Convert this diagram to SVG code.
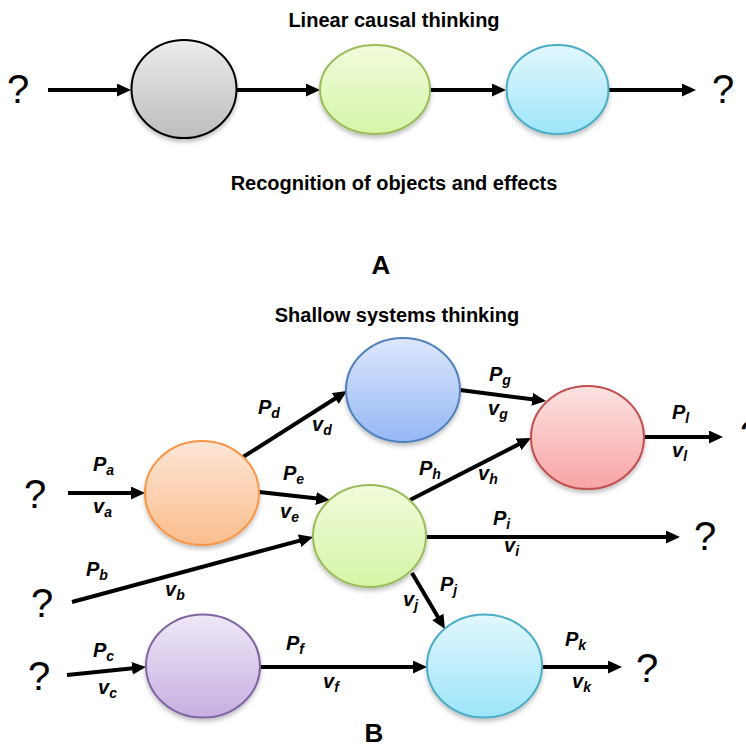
<svg xmlns="http://www.w3.org/2000/svg" width="746" height="747" viewBox="0 0 746 747">
  <style>
    .title { font-family: "Liberation Sans", Arial, sans-serif; font-weight: bold; font-size: 20px; fill: #000; text-anchor: middle; }
    .panel { font-family: "Liberation Sans", Arial, sans-serif; font-weight: bold; font-size: 26px; fill: #000; text-anchor: middle; }
    .q { font-family: "Liberation Sans", Arial, sans-serif; font-size: 40px; fill: #000; text-anchor: middle; }
    .lbl { font-family: "Liberation Sans", Arial, sans-serif; font-weight: bold; font-style: italic; font-size: 20px; fill: #000; }
    .sub { font-size: 14px; }
    .edge { stroke: #000; stroke-width: 4; fill: none; marker-end: url(#head); }
    .node { stroke-width: 2; filter: url(#shadow); }
  </style>
  <defs>
    <marker id="head" markerUnits="userSpaceOnUse" markerWidth="14" markerHeight="13" refX="6" refY="6.5" orient="auto">
      <path d="M0,0 L14,6.5 L0,13 z" fill="#000"/>
    </marker>
    <filter id="shadow" x="-20%" y="-20%" width="140%" height="150%">
      <feDropShadow dx="0" dy="3" stdDeviation="2" flood-color="#000" flood-opacity="0.25"/>
    </filter>
    <linearGradient id="gGray" x1="0" y1="0" x2="0" y2="1"><stop offset="0" stop-color="#ececec"/><stop offset="1" stop-color="#bdbdbd"/></linearGradient>
    <linearGradient id="gGreen" x1="0" y1="0" x2="0" y2="1"><stop offset="0" stop-color="#f1fbdc"/><stop offset="1" stop-color="#d6f5a6"/></linearGradient>
    <linearGradient id="gCyan" x1="0" y1="0" x2="0" y2="1"><stop offset="0" stop-color="#e2f7fd"/><stop offset="1" stop-color="#9de5fa"/></linearGradient>
    <linearGradient id="gBlue" x1="0" y1="0" x2="0" y2="1"><stop offset="0" stop-color="#dde8fd"/><stop offset="1" stop-color="#95b7f4"/></linearGradient>
    <linearGradient id="gRed" x1="0" y1="0" x2="0" y2="1"><stop offset="0" stop-color="#fde2e2"/><stop offset="1" stop-color="#f8a4a4"/></linearGradient>
    <linearGradient id="gOrange" x1="0" y1="0" x2="0" y2="1"><stop offset="0" stop-color="#fde6d6"/><stop offset="1" stop-color="#fbbd8c"/></linearGradient>
    <linearGradient id="gPurple" x1="0" y1="0" x2="0" y2="1"><stop offset="0" stop-color="#eee8f7"/><stop offset="1" stop-color="#c7afe1"/></linearGradient>
  </defs>

  <!-- Panel A: linear chain -->
  <text class="title" x="394" y="27">Linear causal thinking</text>
  <text class="title" x="394" y="190">Recognition of objects and effects</text>
  <text class="panel" x="381" y="274">A</text>

  <g id="a-connectors">
    <line class="edge" x1="48" y1="90" x2="123" y2="90"/>
    <line class="edge" x1="237" y1="90" x2="312" y2="90"/>
    <line class="edge" x1="430" y1="90" x2="498" y2="90"/>
    <line class="edge" x1="608" y1="90" x2="688" y2="90"/>
  </g>
  <g id="a-in"><text class="q" x="18" y="103">?</text></g>
  <g id="a-gray"><ellipse class="node" cx="184" cy="89" rx="52.5" ry="49" fill="url(#gGray)" stroke="#000"/></g>
  <g id="a-green"><ellipse class="node" cx="375" cy="89.5" rx="55" ry="44.5" fill="url(#gGreen)" stroke="#9bbb59"/></g>
  <g id="a-cyan"><ellipse class="node" cx="557.5" cy="89.5" rx="51" ry="44.5" fill="url(#gCyan)" stroke="#4bacc6"/></g>
  <g id="a-out"><text class="q" x="723" y="103">?</text></g>

  <!-- Panel B: branching network -->
  <text class="title" x="397" y="322">Shallow systems thinking</text>
  <text class="panel" x="374" y="742">B</text>

  <g id="b-connectors">
    <line class="edge" x1="68" y1="493" x2="137" y2="493"/>
    <line class="edge" x1="243" y1="457" x2="340.2" y2="395.3"/>
    <line class="edge" x1="259" y1="492" x2="322" y2="499.1"/>
    <line class="edge" x1="72" y1="602" x2="305.3" y2="539.1"/>
    <line class="edge" x1="460" y1="390" x2="538.1" y2="400"/>
    <line class="edge" x1="410" y1="500" x2="523.9" y2="441.6"/>
    <line class="edge" x1="644" y1="437" x2="715" y2="437"/>
    <line class="edge" x1="426" y1="537" x2="672" y2="537"/>
    <line class="edge" x1="412" y1="573" x2="440.9" y2="622.1"/>
    <line class="edge" x1="67" y1="675" x2="138" y2="667.8"/>
    <line class="edge" x1="260" y1="667" x2="419" y2="667"/>
    <line class="edge" x1="542" y1="667" x2="614" y2="667"/>
  </g>

  <g id="b-labels">
    <text class="lbl" x="93" y="471">P<tspan class="sub" dy="4">a</tspan></text>
    <text class="lbl" x="93" y="513">v<tspan class="sub" dy="4">a</tspan></text>
    <text class="lbl" x="258" y="414">P<tspan class="sub" dy="4">d</tspan></text>
    <text class="lbl" x="312" y="431">v<tspan class="sub" dy="4">d</tspan></text>
    <text class="lbl" x="283" y="480">P<tspan class="sub" dy="4">e</tspan></text>
    <text class="lbl" x="280" y="518">v<tspan class="sub" dy="4">e</tspan></text>
    <text class="lbl" x="86" y="576">P<tspan class="sub" dy="4">b</tspan></text>
    <text class="lbl" x="165" y="596">v<tspan class="sub" dy="4">b</tspan></text>
    <text class="lbl" x="489" y="381">P<tspan class="sub" dy="4">g</tspan></text>
    <text class="lbl" x="488" y="415">v<tspan class="sub" dy="4">g</tspan></text>
    <text class="lbl" x="419" y="475">P<tspan class="sub" dy="4">h</tspan></text>
    <text class="lbl" x="478" y="480">v<tspan class="sub" dy="4">h</tspan></text>
    <text class="lbl" x="672" y="419">P<tspan class="sub" dy="4">l</tspan></text>
    <text class="lbl" x="672" y="457">v<tspan class="sub" dy="4">l</tspan></text>
    <text class="lbl" x="493" y="525">P<tspan class="sub" dy="4">i</tspan></text>
    <text class="lbl" x="504" y="552">v<tspan class="sub" dy="4">i</tspan></text>
    <text class="lbl" x="440" y="591">P<tspan class="sub" dy="4">j</tspan></text>
    <text class="lbl" x="403" y="606">v<tspan class="sub" dy="4">j</tspan></text>
    <text class="lbl" x="93" y="657">P<tspan class="sub" dy="4">c</tspan></text>
    <text class="lbl" x="98" y="694">v<tspan class="sub" dy="4">c</tspan></text>
    <text class="lbl" x="286" y="650">P<tspan class="sub" dy="4">f</tspan></text>
    <text class="lbl" x="323" y="688">v<tspan class="sub" dy="4">f</tspan></text>
    <text class="lbl" x="565" y="646">P<tspan class="sub" dy="4">k</tspan></text>
    <text class="lbl" x="572" y="688">v<tspan class="sub" dy="4">k</tspan></text>
  </g>

  <g id="b-inputs">
    <text class="q" x="35" y="508">?</text>
    <text class="q" x="42" y="617">?</text>
    <text class="q" x="39" y="690">?</text>
  </g>
  <g id="b-outputs">
    <text class="q" x="751" y="449">?</text>
    <text class="q" x="705" y="550">?</text>
    <text class="q" x="647" y="682">?</text>
  </g>

  <g id="b-orange"><ellipse class="node" cx="202" cy="493" rx="57" ry="52" fill="url(#gOrange)" stroke="#f79646"/></g>
  <g id="b-blue"><ellipse class="node" cx="403" cy="390" rx="57" ry="52" fill="url(#gBlue)" stroke="#4f81bd"/></g>
  <g id="b-red"><ellipse class="node" cx="587.5" cy="437.5" rx="56.5" ry="51.5" fill="url(#gRed)" stroke="#c0504d"/></g>
  <g id="b-green"><ellipse class="node" cx="369.5" cy="536" rx="56.5" ry="51" fill="url(#gGreen)" stroke="#9bbb59"/></g>
  <g id="b-purple"><ellipse class="node" cx="203" cy="666" rx="57" ry="51.5" fill="url(#gPurple)" stroke="#8064a2"/></g>
  <g id="b-cyan"><ellipse class="node" cx="484.5" cy="666" rx="57.5" ry="51.5" fill="url(#gCyan)" stroke="#4bacc6"/></g>
</svg>
